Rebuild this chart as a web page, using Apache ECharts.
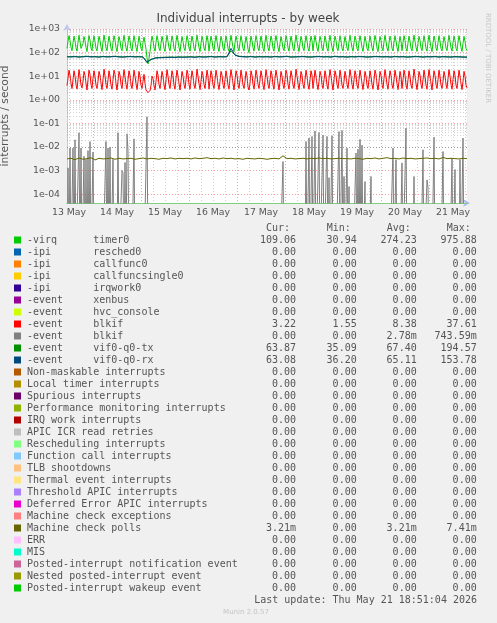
<!DOCTYPE html>
<html><head><meta charset="utf-8">
<script src="https://cdn.jsdelivr.net/npm/echarts@6/dist/echarts.min.js"></script>
<style>html,body{margin:0;padding:0;background:#f0f0f0}#c{width:497px;height:623px}</style>
</head><body><div id="c"></div>
<script>
// ---- time axis: 30-minute samples, first sample 13 May 11:00 ----
const START_DAY = 13, START_HOUR = 11, STEP_H = 0.5, N_SAMPLES = 401;
const xTickLabels = ['13 May','14 May','15 May','16 May','17 May','18 May','19 May','20 May','21 May'];
const yTickLabels = ['1e-04','1e-03','1e-02','1e-01','1e+00','1e+01','1e+02','1e+03'];

// ---- series values (per 30 min sample) ----
const timer0 = [
150,300,520,330,170, 120,260,500,310,160,
115,280,540,300,150, 125,240,480,320,165,
110,270,530,340,155, 120,290,510,300,150,
118,250,490,330,170, 112,280,550,310,160,
120,260,500,300,150, 115,270,520,340,165,
110,250,480,320,155, 120,290,540,300,160,
115,260,500,330,150, 118,280,520,310,165,
112,250,490,300,150, 120,270,450,260,140,
60,33,55,110,260, 500,320,160,115,270,
520,330,155, 120,250,490,310,150, 112,280,
540,300,160, 118,260,510,330,150, 115,290,
530,310,165, 110,250,480,300,155, 120,270,
520,340,160, 115,260,500,310,150, 118,280,
550,300,165, 112,250,490,330,155, 120,270,
520,310, 115,260,500,320,150, 118,280,530,
300,160, 112,250,490,330,155, 120,270,510,
310,150, 115,290,540,300,165, 110,260,500,
330,155, 120,270,520,310,150, 118,250,480,
300,140,100,230,500,320,160, 115,270,520,
330,155, 120,260,500,310,150, 112,280,540,
300,160, 118,260,510,330,150, 115,290,530,
310,165, 110,250,480,300,155, 120,270,520,
340,160, 115,260,500,310,150, 118,280,550,
300,165, 112,250,490,330,155, 120,270,520,
310,150, 115,260,500,320, 118,280,530,300,
160, 112,250,490,330,155, 120,270,510,310,
150, 115,290,540,300,165, 110,260,500,330,
155, 120,270,520,310,150, 118,250,480,300,
155, 120,290,540,300,160, 115,260,500,330,
150, 118,280,520,310,165, 112,250,490,300,
150, 120,270,510,310,160, 115,280,530,340,
155, 110,250,480,320,155, 120,290,540,300,
160, 115,260,500,330,150, 118,280,520,310,
165, 112,250,490,300, 120,270,520,330,150,
115,260,500,310,150, 118,280,550,300,165,
112,250,490,330,155, 120,270,520,310,150,
115,290,540,300,165, 110,260,500,330,155,
120,270,520,310,150, 118,250,480,300,155,
120,290,540,300,160, 115,260,500,330,150,
118,280,520,310,165, 112,250,490,300,150,
120
];
const blkif1 = [
4,8,18,11,5, 3,7,17,10,4.5,
2.8,7,19,10,4.2, 3.2,6,16,11,4.8,
2.6,7,18,12,4.5, 3,8,17,10,4.2,
3,6,16,11,5, 2.7,7,20,10,4.5,
3,7,17,10,4.2, 2.8,7,18,12,4.8,
2.6,6,16,11,4.5, 3,8,19,10,4.5,
2.8,7,17,11,4.2, 3,7,18,10,4.8,
2.7,6,16,10,4.2, 3,6,12,5,2.6,
2.2,2,2.3,2.5,4, 10,8,4,2.6,6,
17,11,4.5, 3,6,16,10,4.2, 2.7,7,
19,10,4.5, 3,7,17,11,4.2, 2.8,8,
18,10,4.8, 2.6,6,16,10,4.5, 3,7,
18,12,4.5, 2.8,7,17,10,4.2, 3,7,
20,10,4.8, 2.7,6,16,11,4.5, 3,7,
18,10, 2.8,7,17,11,4.2, 3,7,18,
10,4.5, 2.7,6,16,11,4.5, 3,7,17,
10,4.2, 2.8,8,19,10,4.8, 2.6,7,17,
11,4.5, 3,7,18,10,4.2, 3,6,16,
10,3.5,2.6,5,17,11,4.5, 2.8,7,18,
11,4.5, 3,7,17,10,4.2, 2.7,7,19,
10,4.5, 3,7,17,11,4.2, 2.8,8,18,
10,4.8, 2.6,6,16,10,4.5, 3,7,18,
12,4.5, 2.8,7,17,10,4.2, 3,7,20,
10,4.8, 2.7,6,16,11,4.5, 3,7,18,
10,4.2, 2.8,7,17,11, 3,7,18,10,
4.5, 2.7,6,16,11,4.5, 3,7,17,10,
4.2, 2.8,8,19,10,4.8, 2.6,7,17,11,
4.5, 3,7,18,10,4.2, 3,6,16,10,
4.5, 3,8,19,10,4.5, 2.8,7,17,11,
4.2, 3,7,18,10,4.8, 2.7,6,16,10,
4.2, 3,7,17,10,4.5, 2.8,7,18,12,
4.5, 2.6,6,16,11,4.5, 3,8,19,10,
4.5, 2.8,7,17,11,4.2, 3,7,18,10,
4.8, 2.7,6,16,10, 3,7,18,11,4.2,
2.8,7,17,10,4.2, 3,7,20,10,4.8,
2.7,6,16,11,4.5, 3,7,18,10,4.2,
2.8,8,19,10,4.8, 2.6,7,17,11,4.5,
3,7,18,10,4.2, 3,6,16,10,4.5,
3,8,19,10,4.5, 2.8,7,17,11,4.2,
3,7,18,10,4.8, 2.7,6,16,10,4.2,
3.2
];
// second blkif: isolated spikes [sample index, value]; zero elsewhere
const blkif2Spikes = [
[1,1.3e-3],[3,9e-3],[6,9e-3],[8,2e-2],[12,4e-2],[14,9e-3],[17,4e-3],[19,3e-3],[21,7e-3],[23,1.7e-2],[26,6e-3],
[39,1.7e-2],[41,9e-3],[43,1e-2],[46,3e-3],[51,4e-2],[55,1e-3],[56,8e-4],[58,2.2e-3],[60,3.6e-2],[61,7e-3],[67,2.2e-2],[80,0.19],
[216,2.4e-3],[239,1.7e-2],[242,2.4e-2],[245,2.8e-2],[248,4.8e-2],[252,4.1e-2],[256,3.2e-2],[260,2.8e-2],[262,5e-4],[265,3e-2],
[272,4.5e-2],[275,5e-2],[277,5.6e-4],[280,8.9e-3],[282,2.1e-4],[289,5.5e-3],[291,8e-3],[293,2.1e-2],[295,1.2e-2],[298,3.4e-4],[304,5.6e-4],
[326,9e-3],[329,2.9e-3],[335,2.1e-3],[339,6.3e-2],[347,5.6e-4],[356,7.6e-3],[360,4e-4],[361,2e-4],[367,2.6e-2],[376,6.4e-3],
[385,3.4e-3],[388,1.1e-3],[393,2.9e-3],[396,2.4e-2]
];
// every 4th sample (index = 4*k)
const COARSE_STEP = 4;
const vifTx = [
68,67,69,66,68,70,67,68,66,69,67,68,70,67,66,68,69,67,68,66,
37,50,60,62,63,64,65,64,66,65,
66,67,65,68,66,67,69,66,68,67,
68,120,80,70,68,67,69,66,68,67,
68,66,69,67,68,70,66,67,68,69,
67,66,68,69,67,68,66,70,67,68,
66,68,67,69,68,66,67,69,68,67,
68,66,69,67,68,66,67,69,68,66,
68,67,69,66,68,67,66,68,67,66,65
];
const vifRx = [
66,65,67,64,66,68,65,66,64,67,65,66,68,65,64,66,67,65,66,64,
40,52,58,60,61,62,63,62,64,63,
64,65,63,66,64,65,67,64,66,65,
66,150,78,68,66,65,67,64,66,65,
66,64,67,65,66,68,64,65,66,67,
65,64,66,67,65,66,64,68,65,66,
64,66,65,67,66,64,65,67,66,65,
66,64,67,65,66,64,65,67,66,64,
66,65,67,64,66,65,64,66,65,64,63
];
// machine check polls, in milli-interrupts/second
const mcePollsMilli = [
3.1,3.3,2.9,3.4,3.0,3.2,3.5,2.8,3.3,3.1,
3.2,3.4,3.0,3.3,3.1,3.2,3.3,3.0,3.2,3.4,
3.1,3.3,3.2,3.0,3.3,3.2,3.4,3.1,3.3,3.2,
3.3,3.1,3.4,3.2,3.3,3.5,3.2,3.3,3.1,3.4,
3.2,3.3,3.1,3.2,3.0,3.3,3.2,3.1,3.3,3.2,
3.0,3.2,3.3,3.1,4.2,3.2,3.3,3.1,3.2,3.3,
3.1,3.3,3.2,3.4,3.2,3.3,3.1,3.2,3.3,3.2,
3.2,3.1,3.3,3.2,3.0,3.3,3.2,3.4,3.1,3.3,
3.5,3.2,3.3,3.1,3.4,3.2,3.3,3.1,3.2,3.3,
3.4,3.2,3.3,3.1,3.6,3.2,3.3,3.2,3.1,3.3,3.2
];

// ---- legend table ----
const legendNames = [
'-virq      timer0','-ipi       resched0','-ipi       callfunc0','-ipi       callfuncsingle0','-ipi       irqwork0',
'-event     xenbus','-event     hvc_console','-event     blkif','-event     blkif','-event     vif0-q0-tx','-event     vif0-q0-rx',
'Non-maskable interrupts','Local timer interrupts','Spurious interrupts','Performance monitoring interrupts','IRQ work interrupts',
'APIC ICR read retries','Rescheduling interrupts','Function call interrupts','TLB shootdowns','Thermal event interrupts',
'Threshold APIC interrupts','Deferred Error APIC interrupts','Machine check exceptions','Machine check polls','ERR','MIS',
'Posted-interrupt notification event','Nested posted-interrupt event','Posted-interrupt wakeup event'
];
const legendColors = [
'#00CC00','#0066B3','#FF8000','#FFCC00','#330099','#990099','#CCFF00','#FF0000','#808080','#008F00','#00487D',
'#B35A00','#B38F00','#6B006B','#8FB300','#B30000','#BEBEBE','#80FF80','#80C9FF','#FFC080','#FFE680',
'#AA80FF','#EE00CC','#FF8080','#666600','#FFBFFF','#00FFCC','#CC6699','#999900','#00CC00'
];
const Z = '0.00';
const curVals = ['109.06',Z,Z,Z,Z,Z,Z,'3.22',Z,'63.87','63.08',Z,Z,Z,Z,Z,Z,Z,Z,Z,Z,Z,Z,Z,'3.21m',Z,Z,Z,Z,Z];
const minVals = ['30.94',Z,Z,Z,Z,Z,Z,'1.55',Z,'35.09','36.20',Z,Z,Z,Z,Z,Z,Z,Z,Z,Z,Z,Z,Z,Z,Z,Z,Z,Z,Z];
const avgVals = ['274.23',Z,Z,Z,Z,Z,Z,'8.38','2.78m','67.40','65.11',Z,Z,Z,Z,Z,Z,Z,Z,Z,Z,Z,Z,Z,'3.21m',Z,Z,Z,Z,Z];
const maxVals = ['975.88',Z,Z,Z,Z,Z,Z,'37.61','743.59m','194.57','153.78',Z,Z,Z,Z,Z,Z,Z,Z,Z,Z,Z,Z,Z,'7.41m',Z,Z,Z,Z,Z];
const colHeaders = ['Cur:','Min:','Avg:','Max:'];
const lastUpdate = 'Last update: Thu May 21 18:51:04 2026';

// ---- build ----
const hourAbs = i => START_HOUR + i * STEP_H;
const hourOf = i => hourAbs(i) % 24;
const dayOf = i => Math.floor(hourAbs(i) / 24);
const categories = [];
for (let i = 0; i < N_SAMPLES; i++) {
  const h = hourOf(i);
  categories.push((START_DAY + dayOf(i)) + ' May ' + String(Math.floor(h)).padStart(2,'0') + ':' + (h % 1 ? '30' : '00'));
}
const Y_MIN = 4.2e-5, Y_MAX = 1000, ZERO_FLOOR = 1e-7; // zero cannot be shown on log axis
const blkif2 = new Array(N_SAMPLES).fill(0);
blkif2Spikes.forEach(([i, v]) => { blkif2[i] = v; });
const coarse = arr => arr.map((v, k) => [k * COARSE_STEP, v]);

const minorGrid = [];
for (let e = -5; e <= 2; e++) for (let m = 2; m <= 9; m++) {
  const v = m * Math.pow(10, e);
  if (v > Y_MIN && v < Y_MAX) minorGrid.push({ yAxis: v });
}

const LABEL_FONT = "9.33px 'DejaVu Sans'";
const MONO = "10px 'DejaVu Sans Mono'";
const TXT = '#555';

const graphics = [];
graphics.push({ type:'text', x:248, y:19, silent:true, style:{ text:'Individual interrupts - by week', font:"12px 'DejaVu Sans'", fill:'#444', align:'center', verticalAlign:'middle' }});
graphics.push({ type:'text', x:488, y:58, rotation:-Math.PI/2, silent:true, style:{ text:'RRDTOOL / TOBI OETIKER', font:"7px 'DejaVu Sans'", fill:'#c8c8c8', align:'center', verticalAlign:'middle' }});
const ROW0 = 240, ROWH = 12;
const colLeft = [266, 326.7, 386.7, 446.7];
const colRight = [296, 356.7, 416.7, 476.7];
colHeaders.forEach((h, c) => graphics.push({ type:'text', silent:true, style:{ text:h, x:colLeft[c], y:228, font:MONO, fill:TXT, align:'left', verticalAlign:'middle' }}));
const colArrays = [curVals, minVals, avgVals, maxVals];
legendNames.forEach((name, r) => {
  const y = ROW0 + r * ROWH;
  graphics.push({ type:'rect', silent:true, shape:{ x:14, y:y-3.5, width:7, height:7 }, style:{ fill:legendColors[r] }});
  graphics.push({ type:'text', silent:true, style:{ text:name, x:27, y:y, font:MONO, fill:TXT, align:'left', verticalAlign:'middle' }});
  colArrays.forEach((arr, c) => graphics.push({ type:'text', silent:true, style:{ text:arr[r], x:colRight[c], y:y, font:MONO, fill:TXT, align:'right', verticalAlign:'middle' }}));
});
graphics.push({ type:'text', silent:true, style:{ text:lastUpdate, x:477, y:600, font:MONO, fill:TXT, align:'right', verticalAlign:'middle' }});
graphics.push({ type:'text', silent:true, style:{ text:'Munin 2.0.57', x:246, y:612, font:"7px 'DejaVu Sans'", fill:'#c4c4c4', align:'center', verticalAlign:'middle' }});

const lineSeries = (name, data, color, z) => ({
  name, type:'line', data, xAxisIndex:0, yAxisIndex:0, showSymbol:false, symbol:'none',
  lineStyle:{ color, width:1 }, itemStyle:{ color }, animation:false, silent:true, z, clip:true
});

const option = {
  backgroundColor:'#f0f0f0',
  animation:false,
  grid:{ left:67, top:29, width:400, height:174, containLabel:false, outerBoundsMode:'none', show:true, backgroundColor:'#ffffff', borderWidth:0 },
  xAxis:[
    { type:'category', data:categories, boundaryGap:false, position:'bottom', z:3,
      axisLine:{ show:true, lineStyle:{ color:'#80d080', width:1 } },
      axisTick:{ show:false },
      axisLabel:{ interval:(i) => hourOf(i) === 12, formatter:(v, i) => xTickLabels[dayOf(i)], color:TXT, fontFamily:'DejaVu Sans', fontSize:9.33, margin:5 },
      splitLine:{ show:true, interval:(i) => hourOf(i) === 0, lineStyle:{ color:'rgba(240,80,80,0.55)', width:1, type:[1,2] } }
    },
    { type:'category', data:categories, boundaryGap:false, position:'bottom', z:1,
      axisLine:{ show:true, symbol:['none','arrow'], symbolSize:[6,7], symbolOffset:[0,3], lineStyle:{ color:'#b0bcf0', width:1 } },
      axisTick:{ show:false }, axisLabel:{ show:false },
      splitLine:{ show:true, interval:(i) => hourOf(i) % 6 === 0 && hourOf(i) !== 0, lineStyle:{ color:'rgba(150,150,150,0.45)', width:1, type:[1,2] } }
    }
  ],
  yAxis:[{
    type:'log', logBase:10, min:Y_MIN, max:Y_MAX, splitNumber:7,
    axisLine:{ show:true, symbol:['none','arrow'], symbolSize:[6,7], symbolOffset:[0,5], lineStyle:{ color:'#c0c8f0', width:1 } },
    axisTick:{ show:false },
    axisLabel:{ color:TXT, fontFamily:'DejaVu Sans', fontSize:9.33, margin:7,
      formatter:(v) => { const l = Math.log10(v), e = Math.round(l); if (Math.abs(l - e) > 1e-6) return ''; const idx = e + 4; return yTickLabels[idx] || ''; } },
    splitLine:{ show:true, lineStyle:{ color:'rgba(240,80,80,0.55)', width:1, type:[1,2] } },
    name:'interrupts / second', nameLocation:'middle', nameGap:56, nameRotate:90,
    nameTextStyle:{ color:TXT, fontFamily:'DejaVu Sans', fontSize:10.7 }
  }],
  graphic: graphics,
  series:[
    { name:'minorgrid', type:'line', data:[], xAxisIndex:0, yAxisIndex:0, silent:true, z:1,
      markLine:{ silent:true, symbol:['none','none'], label:{ show:false }, animation:false,
        lineStyle:{ color:'rgba(150,150,150,0.4)', width:1, type:[1,2] }, data:minorGrid } },
    lineSeries('timer0', timer0, '#00CC00', 2),
    lineSeries('blkif', blkif1, '#FF0000', 3),
    lineSeries('blkif2', blkif2.map(v => v > 0 ? v : ZERO_FLOOR), '#808080', 4),
    lineSeries('vif0-q0-tx', coarse(vifTx), '#008F00', 5),
    lineSeries('vif0-q0-rx', coarse(vifRx), '#00487D', 6),
    lineSeries('Machine check polls', coarse(mcePollsMilli.map(v => v / 1000)), '#666600', 7)
  ]
};
const chart = echarts.init(document.getElementById('c'), null, { renderer:'canvas' });
chart.setOption(option);
</script></body></html>
